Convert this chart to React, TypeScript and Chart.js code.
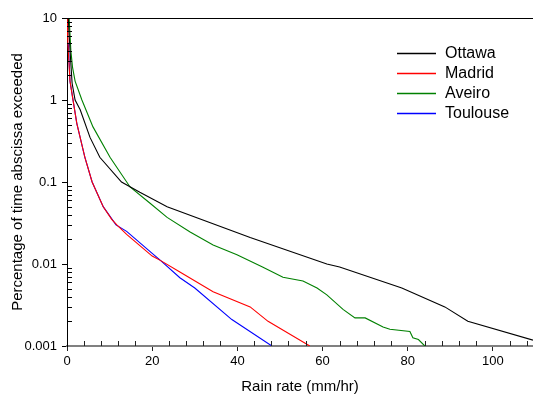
import React, { useEffect, useRef } from "react";
import { Chart, registerables } from "chart.js";

Chart.register(...registerables);

const seriesNames = ["Ottawa", "Madrid", "Aveiro", "Toulouse"];
const seriesColors = ["#000000", "#ff0000", "#008000", "#0000ff"];

const ottawaX = [0.3, 0.7, 1.2, 1.9, 3.1, 5.4, 7.7, 12.8, 17.1, 23.5, 43, 61, 64, 78.6, 88.7, 94.1, 109.4];
const ottawaY = [10, 4.1, 1.6, 1.0, 0.76, 0.35, 0.2, 0.1, 0.075, 0.05, 0.021, 0.01, 0.0092, 0.0051, 0.003, 0.002, 0.00118];

const madridX = [0, 0.2, 0.7, 2.3, 4.2, 5.9, 8.5, 10.5, 11.7, 14, 20, 22, 26.5, 34.3, 43, 47.2, 57];
const madridY = [10, 5, 1.7, 0.52, 0.2, 0.1, 0.05, 0.035, 0.03, 0.023, 0.0125, 0.011, 0.008, 0.0046, 0.003, 0.002, 0.001];

const aveiroX = [0.5, 0.9, 1.3, 1.9, 3.5, 6.1, 10.1, 14.8, 19.5, 23.5, 28.9, 34.3, 39.9, 45.9, 50.7, 55.4, 58.7, 61, 64.8, 67.6, 70, 74.2, 75.8, 80.5, 81.2, 82.5, 84];
const aveiroY = [10, 4, 2.5, 1.7, 1.0, 0.47, 0.2, 0.087, 0.055, 0.037, 0.0245, 0.017, 0.013, 0.0092, 0.0069, 0.0062, 0.0051, 0.0042, 0.0028, 0.0022, 0.0022, 0.0017, 0.0016, 0.0015, 0.00126, 0.0012, 0.001];

const toulouseX = [0.3, 0.7, 2.3, 4.2, 5.9, 8.5, 11.5, 14, 20, 22, 26.5, 30, 38.7, 48.1];
const toulouseY = [5, 1.7, 0.52, 0.2, 0.1, 0.05, 0.03, 0.025, 0.0135, 0.011, 0.0068, 0.0051, 0.0021, 0.001];

const xTicks = [0, 20, 40, 60, 80, 100];
const yTicks = [0.001, 0.01, 0.1, 1, 10];

const xTitle = "Rain rate (mm/hr)";
const yTitle = "Percentage of time abscissa exceeded";

const FONT = "Arial, 'Liberation Sans', Helvetica, sans-serif";

const toPoints = (xs: number[], ys: number[]) => xs.map((x, i) => ({ x, y: ys[i] }));

const decorPlugin = {
  id: "decor",
  afterDraw(chart: any) {
    const { ctx, chartArea, scales } = chart;
    const xs = scales.x;
    const ys = scales.y;
    ctx.save();
    // top border
    ctx.strokeStyle = "#000";
    ctx.lineWidth = 1;
    ctx.beginPath();
    ctx.moveTo(chartArea.left, chartArea.top + 0.5);
    ctx.lineTo(chartArea.right, chartArea.top + 0.5);
    ctx.stroke();
    // minor y ticks (inward)
    ctx.beginPath();
    for (let d = 0.001; d < 5; d *= 10) {
      for (let m = 2; m <= 9; m++) {
        const py = Math.round(ys.getPixelForValue(m * d)) + 0.5;
        ctx.moveTo(chartArea.left, py);
        ctx.lineTo(chartArea.left + 5, py);
      }
    }
    ctx.stroke();
    // minor x ticks (inward)
    ctx.strokeStyle = "#222";
    ctx.beginPath();
    for (let v = 4; v <= xs.max; v += 4) {
      if (v % 20 === 0) continue;
      const px = Math.round(xs.getPixelForValue(v)) + 0.5;
      ctx.moveTo(px, chartArea.bottom);
      ctx.lineTo(px, chartArea.bottom - 5);
    }
    ctx.stroke();
    // legend
    ctx.font = `16px ${FONT}`;
    ctx.textBaseline = "middle";
    ctx.textAlign = "left";
    for (let i = 0; i < seriesNames.length; i++) {
      const y = 53 + 20 * i + 0.5;
      ctx.strokeStyle = seriesColors[i];
      ctx.lineWidth = 1.4;
      ctx.beginPath();
      ctx.moveTo(397, y);
      ctx.lineTo(436, y);
      ctx.stroke();
    }
    ctx.fillStyle = "#000";
    for (let i = 0; i < seriesNames.length; i++) {
      const y = 53 + 20 * i + 0.5;
      ctx.fillText(seriesNames[i], 445, y);
    }
    ctx.restore();
  },
};

export default function App() {
  const ref = useRef<HTMLCanvasElement | null>(null);
  useEffect(() => {
    if (!ref.current) return;
    const xsArr = [ottawaX, madridX, aveiroX, toulouseX];
    const ysArr = [ottawaY, madridY, aveiroY, toulouseY];
    const chart = new Chart(ref.current, {
      type: "line",
      data: {
        datasets: seriesNames.map((name, i) => ({
          label: name,
          data: toPoints(xsArr[i], ysArr[i]),
          borderColor: seriesColors[i],
          backgroundColor: seriesColors[i],
          borderWidth: 1.1,
          pointRadius: 0,
          tension: 0,
          fill: false,
        })),
      },
      options: {
        animation: false,
        responsive: false,
        layout: { padding: { top: 18, right: 0, left: 0, bottom: 0 } },
        plugins: { legend: { display: false }, tooltip: { enabled: false } },
        scales: {
          x: {
            type: "linear",
            min: 0,
            max: 109.4,
            afterBuildTicks: (s: any) => {
              s.ticks = xTicks.map((v) => ({ value: v }));
            },
            afterFit: (s: any) => {
              s.height = 48;
            },
            ticks: {
              color: "#000",
              font: { family: FONT, size: 13 },
              padding: 3,
              maxRotation: 0,
            },
            grid: { display: true, drawOnChartArea: false, drawTicks: true, tickLength: 5, color: "#222" },
            border: { display: true, color: "#808080", width: 2 },
            title: { display: true, text: xTitle, color: "#000", font: { family: FONT, size: 15 }, padding: { top: 0, bottom: -1.5 } },
          },
          y: {
            type: "logarithmic",
            min: 0.001,
            max: 10,
            afterBuildTicks: (s: any) => {
              s.ticks = yTicks.map((v) => ({ value: v }));
            },
            afterFit: (s: any) => {
              s.width = 67;
            },
            ticks: {
              color: "#000",
              font: { family: FONT, size: 13 },
              padding: 5,
              callback: (v: any) => String(v),
            },
            grid: { display: true, drawOnChartArea: false, drawTicks: true, tickLength: 5, color: "#000" },
            border: { display: true, color: "#000", width: 1 },
            title: { display: true, text: yTitle, color: "#000", font: { family: FONT, size: 15 }, padding: { top: 9, bottom: 0 } },
          },
        },
      },
      plugins: [decorPlugin],
    });
    return () => chart.destroy();
  }, []);
  return (
    <div style={{ position: "absolute", left: 0, top: 0, width: 533, height: 394 }}>
      <canvas ref={ref} width={533} height={394} style={{ display: "block" }} />
    </div>
  );
}
